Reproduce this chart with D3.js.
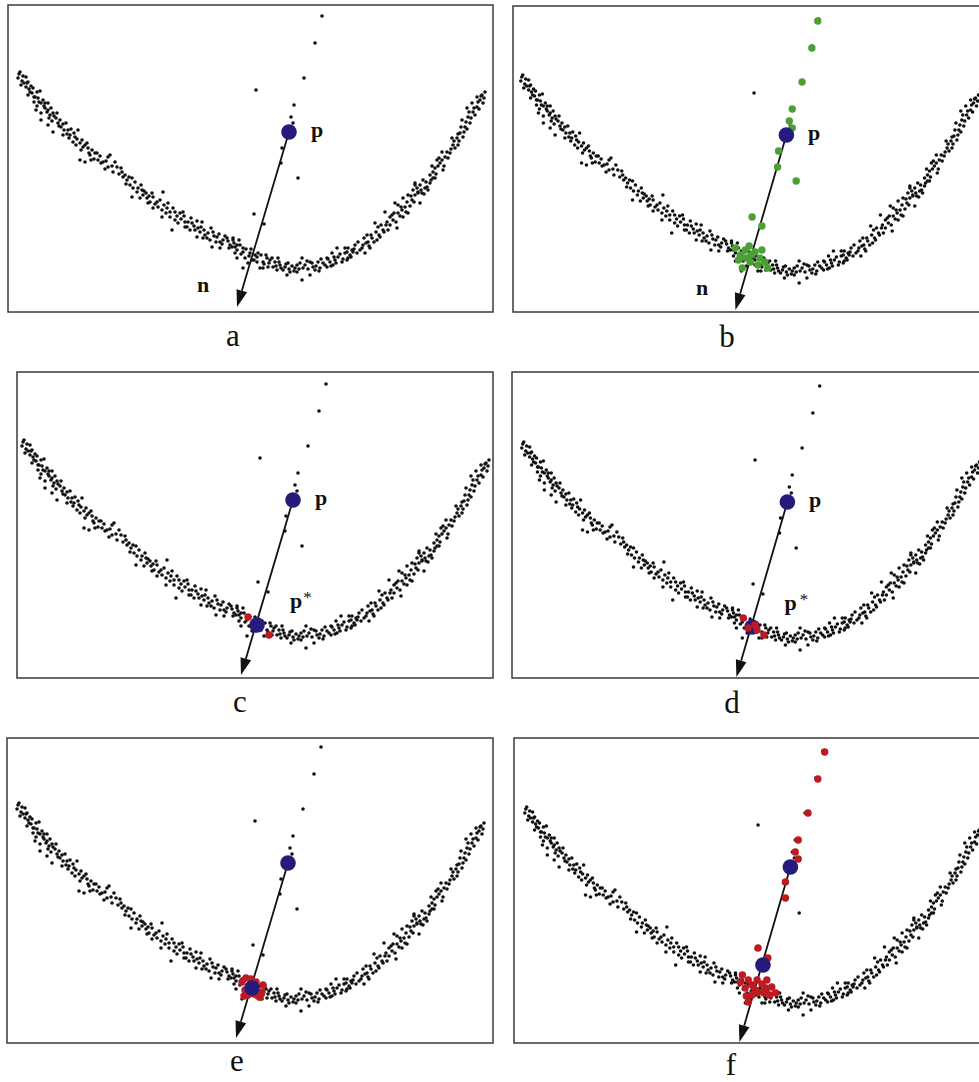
<!DOCTYPE html>
<meta charset="utf-8">
<head>
	<style>
		body { margin: 0; background: #fff; }
		svg { display: block; }
		.frame { fill: none; stroke: #3a3a3a; stroke-width: 1.5; }
		.pt { fill: #111; }
		.lbl { font-family: "Liberation Serif", "Times New Roman", serif; font-weight: bold; font-size: 22px; fill: #111; }
		.cap { font-family: "Liberation Serif", "Times New Roman", serif; font-size: 31px; fill: #111; }
	</style>
	<script src="https://cdn.jsdelivr.net/npm/d3@7"></script>
</head>
<body></body>
<script>

	// noisy curve (x to the right, y up)
	var curve = [
		[1.2,24.0],[1.8,23.5],[1.0,23.4],[1.4,23.1],[1.6,22.9],[2.0,23.0],[1.8,22.5],[2.3,22.6],[2.2,22.0],[2.4,21.9],
		[2.7,21.5],[2.6,21.0],[3.0,21.4],[3.2,22.1],[3.3,20.9],[3.7,20.9],[4.0,20.9],[2.8,20.2],[3.3,19.9],[3.7,20.4],
		[4.0,20.2],[4.2,19.7],[4.5,19.9],[4.8,19.4],[3.3,19.2],[4.0,18.7],[4.5,18.0],[5.0,18.9],[5.3,18.5],[5.8,18.9],
		[6.0,18.2],[5.5,17.7],[6.2,17.7],[6.7,17.5],[7.0,18.2],[6.5,17.0],[7.2,16.9],[7.7,16.7],[8.0,16.4],[7.3,16.2],
		[8.2,15.7],[8.7,15.9],[7.2,15.2],[7.7,15.0],[8.3,15.2],[9.0,15.2],[9.5,15.0],[10.0,15.5],[10.0,14.5],[10.7,15.0],
		[10.2,15.7],
		[11.4,14.0],[11.5,13.5],[11.9,13.2],[12.4,13.4],[12.2,12.7],[12.5,12.4],[13.0,12.4],[13.4,12.2],[12.4,11.5],[13.2,11.4],
		[13.5,11.7],[13.9,11.4],[14.2,11.0],[14.5,11.5],[14.9,11.0],[15.5,12.0],[14.5,10.4],[15.0,10.5],[15.4,10.2],[15.9,10.4],
		[16.2,10.0],[16.7,10.0],[17.2,9.9],[17.5,10.0],[15.4,9.5],[16.2,9.5],[16.7,9.2],[17.0,8.9],[17.7,9.0],[18.0,9.0],
		[18.4,8.9],[19.4,9.0],[16.4,8.2],[17.7,8.5],[18.2,8.2],[18.7,8.2],[19.2,8.0],[19.7,7.7],[20.0,7.9],[20.5,8.0],
		[18.9,7.5],[19.5,7.4],[20.2,7.2],[20.9,7.5],[21.2,7.0],[21.5,7.2],[21.9,7.4],[22.5,7.2],[22.2,6.7],[22.7,6.5],
		[23.2,6.7],[23.5,6.4],[20.4,6.5],[21.2,6.4],
		[22.5,7.4],[22.4,6.5],[22.9,6.7],[22.7,5.9],[23.5,6.0],[23.7,5.4],[24.2,5.9],[24.7,5.7],[25.0,5.9],[24.4,5.2],
		[24.9,5.0],[25.5,5.0],[25.9,5.4],[26.2,5.2],[26.7,5.0],[27.0,5.4],[23.5,4.4],[25.5,4.4],[26.0,4.5],[26.5,4.5],
		[27.2,4.7],[27.7,4.5],[28.0,4.9],[26.9,4.2],[27.5,4.2],[28.2,4.0],[28.7,4.4],[29.2,4.9],[29.4,5.4],[29.7,4.7],
		[30.2,5.0],[30.5,4.5],[31.0,5.0],[27.9,3.7],[29.4,3.2],[30.2,3.7],[31.2,4.4],[31.5,4.9],[31.9,5.4],[32.4,5.9],
		[32.2,5.0],[32.7,5.2],[33.0,5.5],[33.4,5.0],[33.7,5.9],[34.0,5.4],[34.4,6.2],[33.7,6.4],[32.9,6.4],[22.9,5.4],
		[24.0,4.9],[25.2,4.4],[28.9,4.0],[30.7,4.2],[31.9,4.5],[32.5,4.7],
		[33.9,5.2],[34.2,5.7],[34.5,6.0],[34.0,6.4],[34.7,6.7],[35.2,6.2],[35.5,6.7],[35.7,5.9],[36.0,7.0],[36.2,6.4],
		[35.9,7.7],[36.4,7.4],[36.9,7.2],[37.2,7.5],[36.7,8.9],[37.0,8.5],[37.5,8.2],[37.9,9.0],[38.0,8.2],[38.4,9.7],
		[38.5,9.2],[38.9,8.4],[39.0,9.9],[39.4,10.2],[39.7,10.5],[39.5,9.5],[40.0,9.9],[38.7,10.9],[40.4,11.2],[40.7,11.7],
		[41.0,12.0],[41.4,11.9],[41.7,12.4],[41.2,10.9],[40.7,12.7],[42.2,12.9],[37.7,10.0],[39.0,10.7],[40.0,11.7],
		[39.5,11.4],[40.5,12.2],[41.0,11.9],[40.7,12.9],[41.2,12.7],[41.5,13.2],[41.9,12.5],[42.2,13.7],[42.5,13.4],[42.7,14.4],
		[42.9,15.2],[43.2,14.9],[43.5,14.2],[43.7,15.5],[43.4,16.0],[44.2,15.9],[44.5,16.7],[44.4,17.4],[44.9,17.4],[45.2,17.9],
		[45.5,17.5],[45.7,18.5],[45.4,19.2],[46.0,19.5],[46.2,18.9],[46.5,20.0],[46.9,20.5],[46.4,20.9],[47.2,21.2],[47.4,21.7],
		[46.9,21.5],[47.5,20.9],[45.9,20.4],[45.0,16.7],[42.5,14.0],[42.7,13.4],
		// second pass over the band, denser parts
		[1.1,23.8],[1.5,23.6],[1.3,22.7],[1.9,22.9],[2.1,22.3],[2.5,22.4],[2.0,21.7],[2.9,22.0],[2.6,21.5],[3.1,21.0],
		[2.9,20.6],[3.5,21.2],[3.6,20.6],[3.9,20.0],[4.3,20.4],[4.1,19.4],[4.6,19.6],[4.4,19.1],[4.9,19.9],[5.1,18.6],
		[5.5,18.8],[5.2,19.2],[5.6,18.2],[5.9,17.8],[6.3,18.3],[6.1,17.4],[6.6,17.9],[6.9,17.3],[6.8,16.7],[7.4,17.2],
		[7.5,16.5],[7.9,16.9],[8.4,16.2],[8.1,15.9],[8.6,15.3],[8.9,15.9],[9.2,15.6],[9.3,14.9],[9.8,15.1],[9.7,14.3],
		[10.4,14.6],[10.5,14.0],[10.9,14.5],[11.1,13.8],[11.3,14.4],[11.7,13.7],[11.8,12.8],[12.1,13.5],[12.7,13.0],[12.9,12.0],
		[13.3,12.7],[13.6,12.1],[13.8,11.9],[14.1,11.6],[14.0,10.9],[14.4,11.9],[14.7,10.8],[15.2,11.2],[15.6,10.7],[15.8,9.9],
		[16.0,10.9],[16.5,10.4],[16.9,9.6],[17.3,9.3],[17.6,9.6],[17.9,8.5],[18.3,9.4],[18.6,8.6],[19.0,8.4],[18.9,9.1],
		[19.3,8.5],[19.6,8.2],[19.9,7.4],[20.3,8.4],[20.6,7.6],[20.8,7.0],[21.1,7.8],[21.4,6.8],[21.7,7.6],[22.0,7.1],
		[22.1,6.4],[22.6,6.9],[22.9,6.2],[23.1,7.2],[23.3,5.8],[23.8,6.3],[24.1,5.6],[24.3,6.3],[24.6,5.2],[24.9,5.5],
		[25.3,5.7],[25.6,4.8],[25.8,5.7],[26.1,4.9],[26.4,5.4],[26.8,4.6],[27.1,5.0],[27.3,4.4],[27.8,4.8],[28.1,4.3],
		[28.4,4.6],[28.6,4.1],[28.9,4.7],[29.1,4.3],[29.5,4.4],[29.9,5.1],[30.0,4.3],[30.4,4.9],[30.8,4.6],[31.1,4.1],
		[31.3,5.3],[31.7,4.7],[32.0,5.3],[32.3,4.6],[32.6,5.5],[32.8,4.9],[33.2,5.8],[33.5,5.3],[33.9,6.0],[34.3,5.5],
		[34.6,6.3],[34.9,5.9],[35.0,7.0],[35.4,6.4],[35.8,6.9],[35.6,7.4],[36.1,6.6],[36.3,7.7],[36.6,7.0],[36.8,8.0],
		[37.1,7.7],[37.3,8.7],[37.6,8.0],[37.8,8.7],[38.2,9.5],[38.2,8.7],[38.6,9.9],[38.8,9.0],[39.2,9.6],[39.3,10.5],
		[39.8,10.0],[39.9,11.0],[40.2,10.6],[40.3,11.6],[40.6,11.0],[40.9,12.4],[41.3,12.2],[41.6,11.8],[41.8,13.0],[42.0,12.2],
		[42.3,13.2],[42.4,14.6],[42.8,13.8],[43.0,14.6],[43.1,15.4],[43.4,15.2],[43.6,14.6],[43.9,16.0],[44.0,15.4],[44.3,16.3],
		[44.6,17.1],[44.7,16.4],[45.0,17.8],[45.1,17.1],[45.3,18.5],[45.6,18.0],[45.8,19.0],[45.9,18.3],[46.1,20.0],[46.3,19.4],
		[46.6,20.4],[46.7,19.7],[47.0,21.0],[47.1,20.3],[47.3,21.6],[47.6,21.4],[47.7,22.0]
	];

	var outliers = [
		[31.4,29.6],[30.7,26.9],[29.6,23.4],[24.8,22.2],[28.6,20.7],[28.3,19.5],
		[28.5,18.9],[27.4,16.4],[27.3,14.9],[29.0,13.4],[24.6,9.8],[25.6,8.8]
	];

	var pPoint = [28.1, 18.0],
			arrowTip = [22.9, 0.5],
			pStar = [24.5, 5.5],
			fLowerPoint = [25.3, 8.2];

	var greenB = [
		[31.3,29.4],[30.7,26.7],[29.7,23.3],[28.7,20.6],[28.4,19.4],[28.7,18.7],[27.3,16.4],[27.2,14.8],
		[29.1,13.4],[24.6,9.8],[25.6,8.9],
		[22.9,6.7],[23.4,6.0],[23.9,6.5],[24.3,6.9],[24.9,6.3],[25.4,5.7],[25.9,5.3],[26.2,4.7],
		[25.2,5.0],[24.4,5.3],[23.9,5.7],[23.6,4.7],[24.5,6.0],[23.2,5.5],[25.6,6.5]
	];

	var redC = [[23.6,6.3],[25.7,4.5]];

	var redD = [[23.6,6.4],[24.1,5.4],[24.8,5.7],[25.7,4.7],[25.0,5.2]];

	var redE = [
		[23.5,6.1],[23.8,5.3],[24.1,4.8],[24.3,5.8],[24.7,4.9],[25.1,4.7],[25.5,5.1],
		[25.6,5.8],[23.9,6.5],[24.4,6.4],[24.9,6.1],[23.7,4.7],[25.3,4.6],[24.5,5.3]
	];

	var redF = [
		[31.6,29.5],[30.9,26.8],[29.9,23.4],[28.9,20.7],[28.6,19.5],[28.9,18.8],[27.6,16.5],[27.6,14.9],
		[24.8,9.9],[25.8,8.9],
		[23.2,7.2],[23.8,6.7],[23.5,5.9],[24.2,6.2],[24.7,6.7],[25.2,6.3],[25.7,6.7],[26.2,6.0],[26.6,5.4],
		[26.0,5.2],[25.4,5.4],[24.8,5.5],[24.2,5.2],[23.6,5.1],[23.8,4.5],[24.5,5.7],[23.0,6.5],[25.6,5.9]
	];

	var pLabel = [30.3, 17.5],
			nLabel = [19.5, 2.0],
			pStarLabel = [27.8, 7.2];

	var panelNames = ["a", "b", "c", "d", "e", "f"];

	var blue = "#241b7c",
			green = "#4ba034",
			red = "#bf1a22";

	var width = 979,
			height = 1082,
			xMax = 48.5,
			yMax = 30.7;

	// frame, content origin, horizontal squeeze and caption spot of each panel
	var panels = [
		{name: "a", box: [8, 5, 485, 307], org: [8, 5], sx: 1, cap: [233, 346],
			extra: [], marked: [], labels: ["p", "n"]},
		{name: "b", box: [513, 6, 485, 306], org: [511, 8], sx: 0.98, cap: [727, 347],
			extra: [], marked: [{pts: greenB, color: green}], labels: ["p", "n"]},
		{name: "c", box: [17, 372, 476, 306], org: [12, 373], sx: 1, cap: [240, 712],
			extra: [pStar], marked: [{pts: redC, color: red}], labels: ["p", "p*"]},
		{name: "d", box: [512, 372, 485, 306], org: [512, 375], sx: 0.98, cap: [732, 713],
			extra: [pStar], marked: [{pts: redD, color: red, top: true}], labels: ["p", "p*"]},
		{name: "e", box: [7, 738, 486, 305], org: [7, 736], sx: 1, cap: [237, 1071],
			extra: [pStar], marked: [{pts: redE, color: red}], labels: []},
		{name: "f", box: [514, 738, 485, 305], org: [515, 740], sx: 0.98, cap: [731, 1075],
			extra: [fLowerPoint], marked: [{pts: redF, color: red}], labels: []}
	];

	var svg = d3.select("body").append("svg")
		.attr("width", width)
		.attr("height", height);

	panels.forEach(function(pn, i) {
		var x = d3.scaleLinear().domain([0, xMax]).range([pn.org[0], pn.org[0] + 485 * pn.sx]),
				y = d3.scaleLinear().domain([0, yMax]).range([pn.org[1] + 307, pn.org[1]]);

		var g = svg.append("g").attr("class", "panel-" + pn.name);

		g.append("rect")
			.attr("class", "frame")
			.attr("x", pn.box[0])
			.attr("y", pn.box[1])
			.attr("width", pn.box[2])
			.attr("height", pn.box[3]);

		g.append("g").selectAll("circle")
			.data(curve.concat(outliers))
		  .enter().append("circle")
			.attr("class", "pt")
			.attr("cx", function(d) { return x(d[0]); })
			.attr("cy", function(d) { return y(d[1]); })
			.attr("r", 1.8);

		// normal arrow from p, head drawn as a small triangle
		var x0 = x(pPoint[0]), y0 = y(pPoint[1]),
				x1 = x(arrowTip[0]), y1 = y(arrowTip[1]),
				ang = Math.atan2(y1 - y0, x1 - x0),
				headLen = 17, headW = 5.5,
				bx = x1 - headLen * Math.cos(ang), by = y1 - headLen * Math.sin(ang);

		g.append("line")
			.attr("x1", x0).attr("y1", y0)
			.attr("x2", bx).attr("y2", by)
			.attr("stroke", "#111")
			.attr("stroke-width", 1.8);

		g.append("path")
			.attr("d", d3.line()([
				[x1, y1],
				[bx + headW * Math.sin(ang), by - headW * Math.cos(ang)],
				[bx - headW * Math.sin(ang), by + headW * Math.cos(ang)]
			]) + "Z")
			.attr("fill", "#111");

		function drawMarked(onTop) {
			pn.marked.filter(function(m) { return !!m.top === onTop; }).forEach(function(m) {
				g.append("g").selectAll("circle")
					.data(m.pts)
				  .enter().append("circle")
					.attr("cx", function(d) { return x(d[0]); })
					.attr("cy", function(d) { return y(d[1]); })
					.attr("r", 3.7)
					.attr("fill", m.color);
			});
		}

		drawMarked(false);

		g.append("g").selectAll("circle")
			.data([pPoint].concat(pn.extra))
		  .enter().append("circle")
			.attr("cx", function(d) { return x(d[0]); })
			.attr("cy", function(d) { return y(d[1]); })
			.attr("r", 7.8)
			.attr("fill", blue);

		drawMarked(true);

		if (pn.labels.indexOf("p") >= 0) {
			g.append("text")
				.attr("class", "lbl")
				.attr("x", x(pLabel[0]))
				.attr("y", y(pLabel[1]))
				.text("p");
		}
		if (pn.labels.indexOf("n") >= 0) {
			g.append("text")
				.attr("class", "lbl")
				.attr("x", x(nLabel[0]))
				.attr("y", y(nLabel[1]))
				.attr("text-anchor", "middle")
				.text("n");
		}
		if (pn.labels.indexOf("p*") >= 0) {
			var t = g.append("text")
				.attr("class", "lbl")
				.attr("x", x(pStarLabel[0]))
				.attr("y", y(pStarLabel[1]));
			t.append("tspan").text("p");
			t.append("tspan")
				.attr("dx", pn.sx < 1 ? 3 : 1)
				.attr("dy", -5)
				.style("font-weight", "normal")
				.style("font-size", "17px")
				.text("*");
		}

		svg.append("text")
			.attr("class", "cap")
			.attr("x", pn.cap[0])
			.attr("y", pn.cap[1])
			.attr("text-anchor", "middle")
			.text(panelNames[i]);
	});

</script>
